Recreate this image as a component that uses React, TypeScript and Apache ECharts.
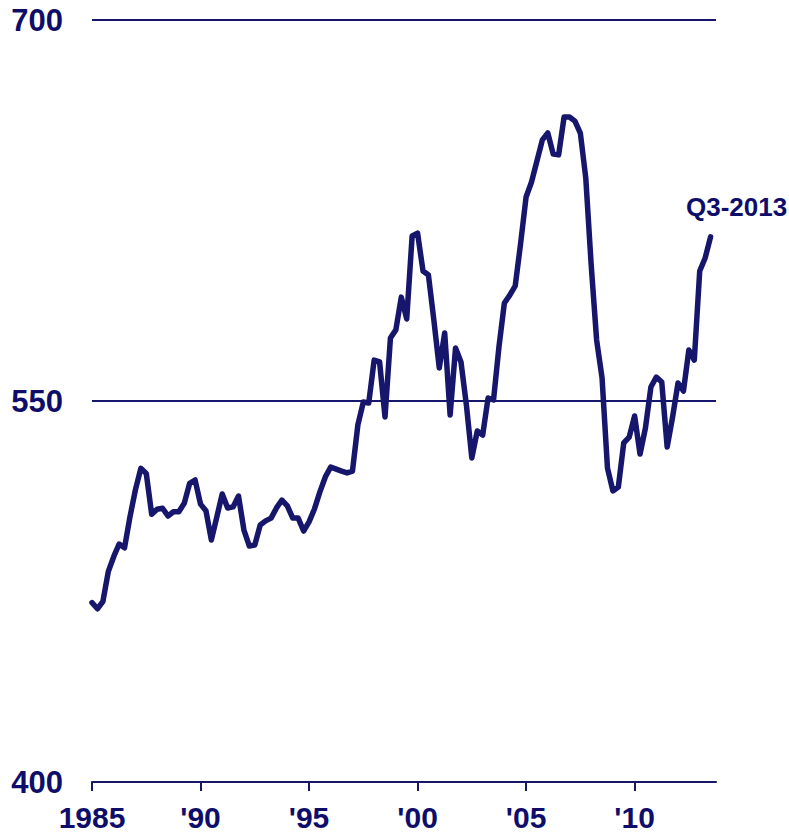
import { useEffect, useRef } from "react";
import * as echarts from "echarts";

// Quarterly categories, Q1-1985 .. Q4-2013 (Q4-2013 has no value, extends axis)
const years: number[] = Array.from({ length: 29 }, (_, i) => 1985 + i);
const categories: string[] = years.flatMap((y) => [1, 2, 3, 4].map((q) => `${y}-Q${q}`));

// Series values, Q1-1985 .. Q3-2013
const values: number[] = [
  470.6, 468.2, 471.0, 482.8, 488.7, 493.7, 492.2, 504.4, 515.0, 523.5,
  521.5, 505.4, 507.4, 507.8, 504.7, 506.4, 506.4, 509.7, 517.6, 518.9,
  509.4, 506.8, 495.3, 504.3, 513.4, 507.9, 508.3, 512.6, 499.2, 492.9,
  493.3, 501.2, 502.8, 503.9, 507.9, 511.0, 508.7, 503.9, 503.9, 498.8,
  502.4, 507.5, 514.2, 520.1, 524.0, 523.2, 522.4, 521.7, 522.4, 540.6,
  549.6, 549.2, 566.1, 565.4, 543.7, 574.8, 578.0, 590.9, 582.3, 615.0,
  616.1, 601.2, 599.6, 581.9, 563.0, 576.8, 544.5, 570.9, 565.4, 548.4,
  527.6, 538.2, 536.6, 551.2, 550.4, 571.3, 588.6, 591.7, 595.3, 612.2,
  630.3, 636.2, 644.5, 652.8, 655.5, 647.2, 646.9, 661.8, 661.8, 660.2,
  655.5, 637.8, 603.5, 574.0, 559.1, 523.6, 514.6, 516.1, 533.5, 535.8,
  544.1, 529.1, 539.4, 555.5, 559.4, 557.5, 531.9, 543.7, 557.1, 553.9,
  570.1, 566.1, 601.2, 606.3, 614.6,
];

const lastLabel = "Q3-2013";
const yMin = 400;
const yMax = 700;
const yStep = 150;

const isMajor = (v: string) => {
  const [y, q] = v.split("-");
  return q === "Q1" && Number(y) % 5 === 0;
};
const fmtYear = (v: string) => {
  const y = Number(v.split("-")[0]);
  return y === 1985 ? String(y) : "'" + String(y).slice(2);
};

export default function App() {
  const ref = useRef<HTMLDivElement>(null);
  useEffect(() => {
    if (!ref.current) return;
    const chart = echarts.init(ref.current, null, { renderer: "svg" });
    const navy = "#16166c";
    const textNavy = "#0e0e6a";
    const font = "'Liberation Sans', Arial, Helvetica, sans-serif";
    chart.setOption({
      animation: false,
      grid: { left: 92, right: 73, top: 20, bottom: 52, containLabel: false },
      xAxis: {
        type: "category",
        data: categories,
        boundaryGap: false,
        axisLine: { show: true, lineStyle: { color: navy, width: 2 } },
        axisTick: {
          show: true,
          length: 9,
          interval: (_i: number, v: string) => isMajor(v),
          lineStyle: { color: navy, width: 2 },
        },
        axisLabel: {
          interval: (_i: number, v: string) => isMajor(v),
          formatter: (v: string) => fmtYear(v),
          color: textNavy,
          fontSize: 30,
          fontWeight: "bold",
          fontFamily: font,
          margin: 20,
        },
        splitLine: { show: false },
      },
      yAxis: {
        type: "value",
        min: yMin,
        max: yMax,
        interval: yStep,
        axisLine: { show: false },
        axisTick: { show: false },
        axisLabel: {
          color: textNavy,
          fontSize: 31,
          fontWeight: "bold",
          fontFamily: font,
          margin: 29,
        },
        splitLine: { show: true, lineStyle: { color: navy, width: 1.8 } },
      },
      series: [
        {
          type: "line",
          data: values,
          showSymbol: false,
          symbol: "none",
          lineStyle: { color: navy, width: 5.5, cap: "round", join: "round" },
          endLabel: {
            show: true,
            formatter: lastLabel,
            distance: 0,
            align: "center",
            verticalAlign: "bottom",
            offset: [26, -17],
            color: textNavy,
            fontSize: 26,
            fontWeight: "bold",
            fontFamily: font,
          },
          z: 5,
        },
      ],
    });
    return () => chart.dispose();
  }, []);
  return (
    <div
      ref={ref}
      style={{ position: "absolute", left: 0, top: 0, width: 789, height: 834 }}
    />
  );
}
